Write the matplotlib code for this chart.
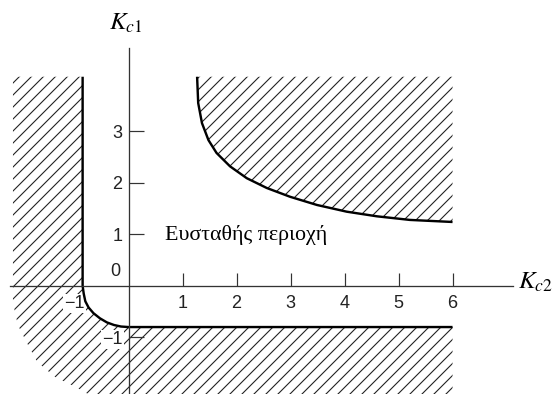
import matplotlib
matplotlib.use("Agg")
import matplotlib.pyplot as plt
from matplotlib.patches import Polygon

# upper stability boundary (Kc2, Kc1)
upper_k2 = [1.27, 1.29, 1.36, 1.48, 1.63, 1.88, 2.19, 2.56, 2.99, 3.49, 4.04, 4.60, 5.21, 6.00]
upper_k1 = [4.06, 3.55, 3.16, 2.83, 2.58, 2.32, 2.09, 1.90, 1.73, 1.57, 1.44, 1.35, 1.28, 1.24]

# lower-left stability boundary
lower_k2 = [-0.85, -0.85, -0.83, -0.80, -0.74, -0.65, -0.53, -0.40, -0.27, -0.14, 0.00, 6.00]
lower_k1 = [4.06, 0.00, -0.15, -0.30, -0.42, -0.53, -0.63, -0.71, -0.76, -0.79, -0.80, -0.80]

# outer edge of the left hatched area
edge_k2 = [-2.14, -2.14, -2.05, -1.88, -1.69, -1.36, -0.95, -0.75, -0.70]
edge_k1 = [4.06, -0.33, -0.76, -1.11, -1.48, -1.77, -1.98, -2.10, -2.20]

top_k1 = 4.06
right_k2 = 6.0

xticks = [-1, 1, 2, 3, 4, 5, 6]
yticks = [-1, 1, 2, 3]

plt.rcParams['hatch.linewidth'] = 1.1
plt.rcParams['mathtext.fontset'] = 'stix'

fig = plt.figure(figsize=(560 / 72, 394 / 72), dpi=72)
ax = fig.add_axes([0, 0, 1, 1])
ax.set_xlim(-2.38, 7.99)
ax.set_ylim(-2.10, 5.55)

# hatched (unstable) regions
upper_poly = list(zip(upper_k2, upper_k1)) + [(right_k2, top_k1)]
ax.add_patch(Polygon(upper_poly, closed=True, facecolor='none',
                     edgecolor='#222222', linewidth=0, hatch='//'))

lower_poly = (list(zip(lower_k2, lower_k1)) + [(right_k2, -2.2)]
              + list(zip(edge_k2, edge_k1))[::-1])
ax.add_patch(Polygon(lower_poly, closed=True, facecolor='none',
                     edgecolor='#222222', linewidth=0, hatch='//'))

# boundaries
ax.plot(upper_k2, upper_k1, color='black', lw=2.4, solid_capstyle='butt')
ax.plot(lower_k2, lower_k1, color='black', lw=2.4, solid_capstyle='butt')

# axes through the origin
for s in ['top', 'right']:
    ax.spines[s].set_visible(False)
ax.spines['left'].set_position(('data', 0))
ax.spines['bottom'].set_position(('data', 0))
ax.spines['left'].set_bounds(-2.2, 4.62)
ax.spines['bottom'].set_bounds(-2.19, 7.12)
for s in ['left', 'bottom']:
    ax.spines[s].set_color('#333333')
    ax.spines[s].set_linewidth(1.3)

ax.set_xticks(xticks)
ax.set_yticks(yticks)
ax.set_xticklabels(['\u22121' if t < 0 else str(t) for t in xticks])
ax.set_yticklabels(['\u22121' if t < 0 else str(t) for t in yticks])
ax.tick_params(axis='x', direction='in', length=13, width=1.2, pad=9,
               colors='#333333', labelsize=18)
ax.tick_params(axis='y', direction='in', length=15, width=1.2, pad=6,
               colors='#333333', labelsize=18)
for lab in ax.get_xticklabels() + ax.get_yticklabels():
    lab.set_fontfamily('Liberation Sans')
    lab.set_color('#222222')
# the -1 labels sit on the hatching, keep a clear patch behind them
for lab in [ax.get_xticklabels()[0], ax.get_yticklabels()[0]]:
    lab.set_bbox(dict(facecolor='white', edgecolor='none', pad=1))
ax.xaxis.get_major_ticks()[0].tick1line.set_visible(False)

ax.text(-0.25, 0.27, '0', fontsize=18, family='Liberation Sans',
        color='#222222', ha='center', va='center')

ax.text(0.68, 0.89, 'Ευσταθής περιοχή', fontsize=22,
        family='Liberation Serif', ha='left', va='baseline')

ax.text(-0.36, 4.97, '$K_{c1}$', fontsize=25, ha='left', va='baseline')
ax.text(7.21, -0.06, '$K_{c2}$', fontsize=25, ha='left', va='baseline')

fig.savefig('out.png', dpi=72)
